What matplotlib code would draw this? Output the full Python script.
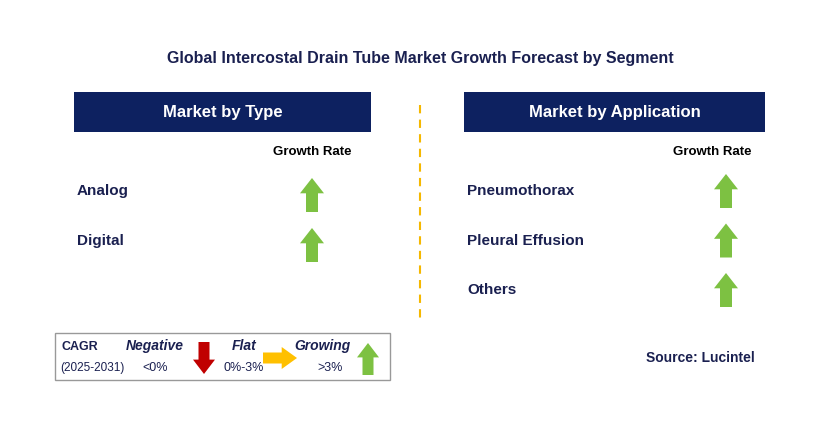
import matplotlib.pyplot as plt
from matplotlib.patches import Rectangle, Polygon

plt.rcParams['font.family'] = 'Liberation Sans'

# chart content
title = 'Global Intercostal Drain Tube Market Growth Forecast by Segment'
type_labels = ['Analog', 'Digital']
type_growth = ['growing', 'growing']
app_labels = ['Pneumothorax', 'Pleural Effusion', 'Others']
app_growth = ['growing', 'growing', 'growing']
legend_names = ['Negative', 'Flat', 'Growing']
legend_ranges = ['<0%', '0%-3%', '>3%']

NAVY = '#0d2160'
GREEN = '#7dc142'
RED = '#c00000'
YELLOW = '#ffc000'
TXT = '#1a2050'


def arrow(ax, cx, cy, w, h, color, direction='up'):
    # simple block arrow centred at (cx, cy)
    sw = w * 0.5
    hh = h * 0.45
    pts = [(-sw / 2, h / 2), (-sw / 2, -h / 2 + hh), (-w / 2, -h / 2 + hh),
           (0, -h / 2), (w / 2, -h / 2 + hh), (sw / 2, -h / 2 + hh), (sw / 2, h / 2)]
    if direction == 'down':
        pts = [(x, -y) for x, y in pts]
    elif direction == 'right':
        pts = [(-y, x) for x, y in pts]
    ax.add_patch(Polygon([(cx + x, cy + y) for x, y in pts], closed=True,
                         facecolor=color, edgecolor='none'))


fig = plt.figure(figsize=(8.29, 4.28), dpi=100)
ax = fig.add_axes([0, 0, 1, 1])
ax.set_xlim(0, 829)
ax.set_ylim(428, 0)
ax.axis('off')

ax.text(420, 58, title, ha='center', va='center', fontsize=11.5, fontweight='bold', color=TXT)

# section headers
for x0, x1, lbl in [(74, 371, 'Market by Type'), (464, 765, 'Market by Application')]:
    ax.add_patch(Rectangle((x0, 92), x1 - x0, 40, facecolor=NAVY, edgecolor='none'))
    ax.text((x0 + x1) / 2, 112, lbl, ha='center', va='center', fontsize=12,
            fontweight='bold', color='white')

ax.plot([420, 420], [105, 322], color='#f5b800', lw=1.5, ls=(0, (4, 3)))

ax.text(312, 152, 'Growth Rate', ha='center', va='center', fontsize=9.5, fontweight='bold', color='black')
ax.text(712, 152, 'Growth Rate', ha='center', va='center', fontsize=9.5, fontweight='bold', color='black')

for i, (lbl, g) in enumerate(zip(type_labels, type_growth)):
    y = 191 + i * 50
    ax.text(77, y, lbl, ha='left', va='center', fontsize=11, fontweight='bold', color=TXT)
    arrow(ax, 312, y + 4, 24, 34, GREEN)

for i, (lbl, g) in enumerate(zip(app_labels, app_growth)):
    y = 191 + i * 49.5
    ax.text(467, y, lbl, ha='left', va='center', fontsize=11, fontweight='bold', color=TXT)
    arrow(ax, 726, y, 24, 34, GREEN)

# legend box
ax.add_patch(Rectangle((55, 333), 335, 47, facecolor='white', edgecolor='#999999', lw=1))
ax.text(62, 347, 'CAGR', ha='left', va='center', fontsize=9, fontweight='bold', color=TXT)
ax.text(60, 368, '(2025-2031)', ha='left', va='center', fontsize=8.5, color=TXT)
for x, name, rng in zip([155, 244, 322], legend_names, legend_ranges):
    ax.text(x, 346, name, ha='center', va='center', fontsize=10, fontweight='bold',
            style='italic', color=TXT)
    ax.text(x if name != 'Growing' else 330, 368, rng, ha='center', va='center',
            fontsize=9, color=TXT)
arrow(ax, 204, 358, 22, 32, RED, 'down')
arrow(ax, 280, 358, 22, 34, YELLOW, 'right')
arrow(ax, 368, 359, 22, 32, GREEN)

ax.text(700, 358, 'Source: Lucintel', ha='center', va='center', fontsize=10, fontweight='bold', color=TXT)

fig.savefig('out.png', dpi=100)
